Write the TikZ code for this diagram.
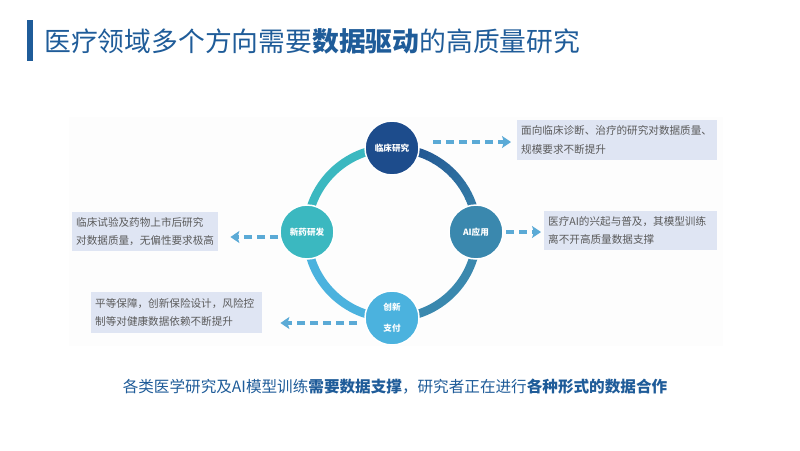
\documentclass[tikz,border=0pt]{standalone}
\usepackage{fontspec}
\setmainfont{Noto Sans CJK SC}
\usetikzlibrary{arrows.meta}
\definecolor{titleblue}{HTML}{1F5C99}
\definecolor{navy}{HTML}{1D4C8C}
\definecolor{steel}{HTML}{3A88AE}
\definecolor{teal}{HTML}{3BB8C0}
\definecolor{lightblue}{HTML}{4BB2DE}
\definecolor{boxfill}{HTML}{DFE5F3}
\definecolor{boxtext}{HTML}{5A5A5A}
\definecolor{arrowblue}{HTML}{5BAAD6}
\definecolor{bgpanel}{HTML}{FDFDFD}
\tikzset{
  hub/.style={circle, minimum size=54pt, inner sep=0pt, draw=white, line width=1.5pt,
    text=white, font=\fontsize{8.6}{21}\selectfont\bfseries, align=center},
  infobox/.style={fill=boxfill, draw=none, anchor=north west, align=left,
    inner xsep=4pt, inner ysep=0pt, text=boxtext,
    font=\fontsize{10.6}{18.5}\selectfont},
  flowarrow/.style={draw=arrowblue, line width=3.2pt, dash pattern=on 8pt off 5pt,
    -{Stealth[length=9pt,width=12pt,inset=2pt]}},
}
\begin{document}
\begin{tikzpicture}[x=1pt,y=-1pt]
\useasboundingbox (0,0) rectangle (800,450);
\fill[white] (0,0) rectangle (800,450);
% faint panel
\fill[bgpanel] (69,117) rectangle (723,346);
% title
\fill[titleblue] (27,20) rectangle (32.5,61);
\node[anchor=west, text=titleblue, font=\fontsize{26.8}{30}\selectfont, inner sep=0pt] (title) at (44,41)
  {医疗领域多个方向需要{\bfseries 数据驱动}的高质量研究};
% ring
\coordinate (ctr) at (392,233);
\foreach \i in {0,...,17}{
  \pgfmathsetmacro{\pc}{100-\i*100/17}
  \draw[line width=8.5pt, color=navy!\pc!steel]
    (ctr) ++({270+5*\i}:85) arc[start angle={270+5*\i}, end angle={270+5*\i+5.6}, radius=85];
}
\draw[line width=8.5pt, steel] (ctr) ++(0:85) arc[start angle=0, end angle=90, radius=85];
\draw[line width=8.5pt, lightblue] (ctr) ++(90:85) arc[start angle=90, end angle=180, radius=85];
\draw[line width=8.5pt, teal] (ctr) ++(180:85) arc[start angle=180, end angle=270, radius=85];
% hubs
\node[hub, fill=navy] (clin) at (392,148) {临床研究};
\node[hub, fill=steel] (ai) at (476,232) {AI应用};
\node[hub, fill=teal] (drug) at (307,232) {新药研发};
\node[hub, fill=lightblue] (pay) at (392,318) {创新\\支付};
% boxes
\node[infobox, minimum width=200pt, minimum height=40pt, text width=192pt] (b1) at (517,120)
  {面向临床诊断、治疗的研究对数据质量、\\规模要求不断提升};
\node[infobox, minimum width=173pt, minimum height=39pt, text width=165pt] (b2) at (544,211)
  {医疗AI的兴起与普及，其模型训练\\离不开高质量数据支撑};
\node[infobox, minimum width=146pt, minimum height=39pt, text width=138pt] (b3) at (72,212)
  {临床试验及药物上市后研究\\对数据质量，无偏性要求极高};
\node[infobox, minimum width=171pt, minimum height=41pt, text width=163pt] (b4) at (91,292)
  {平等保障，创新保险设计，风险控\\制等对健康数据依赖不断提升};
% arrows
\coordinate (s1) at (433,142);
\coordinate (s2) at (506,232);
\coordinate (s3) at (278,237);
\coordinate (s4) at (357,323);
\draw[flowarrow, shorten >=6pt] (s1) -- (s1 -| b1.west);
\draw[flowarrow, shorten >=3pt] (s2) -- (s2 -| b2.west);
\draw[flowarrow, shorten >=12pt] (s3) -- (s3 -| b3.east);
\draw[flowarrow, shorten >=18pt] (s4) -- (s4 -| b4.east);
% bottom caption
\node[text=titleblue, font=\fontsize{15.6}{18}\selectfont, inner sep=0pt] (cap) at (395,387)
  {各类医学研究及AI模型训练{\bfseries 需要数据支撑}，研究者正在进行{\bfseries 各种形式的数据合作}};
\end{tikzpicture}
\end{document}
